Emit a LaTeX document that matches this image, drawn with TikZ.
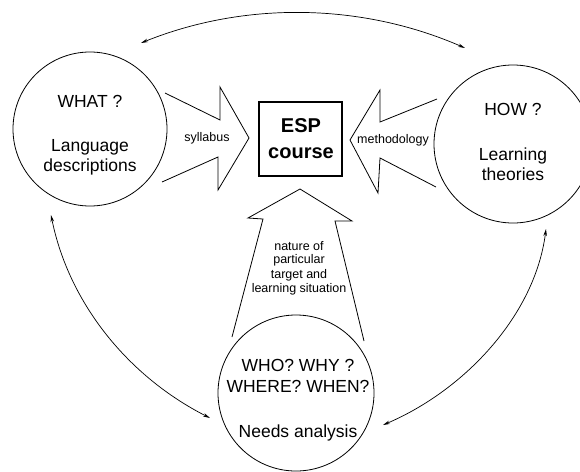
\documentclass[tikz,border=0pt]{standalone}
\usepackage{fontspec}
\setmainfont{Liberation Sans}
\usetikzlibrary{arrows.meta}
\newcommand{\BigLbl}{\fontsize{17.5pt}{21pt}\selectfont}
\newcommand{\SmallLbl}{\fontsize{12.5pt}{14pt}\selectfont}
\newcommand{\EspFont}{\fontsize{20pt}{24pt}\selectfont\bfseries}
\begin{document}
\begin{tikzpicture}[x=1pt,y=-1pt,
  ring/.style={draw, circle, line width=0.8pt, inner sep=0pt},
  biglbl/.style={anchor=base, inner sep=0pt, font=\BigLbl},
  smalllbl/.style={anchor=base, inner sep=0pt, font=\SmallLbl},
  esplbl/.style={anchor=base, inner sep=0pt, font=\EspFont},
  espbox/.style={draw, line width=1.1pt, inner sep=0pt, minimum width=83pt, minimum height=74pt},
  blockarrow/.style={draw, line width=0.8pt, line join=miter},
  link/.style={line width=0.7pt, {Stealth[length=7pt,width=3.5pt]}-{Stealth[length=7pt,width=3.5pt]}},
]
\clip (0,0) rectangle (580,471);
\fill[white] (0,0) rectangle (580,471);

% circles
\node[ring, minimum size=154pt] (what) at (90,129) {};
\node[ring, minimum size=158pt] (how) at (513,144) {};
\node[ring, minimum size=156pt] (who) at (296,393) {};

% circle texts
\node[biglbl] (whatA) at (90,107) {WHAT ?};
\node[biglbl] (whatB) at (90,151) {Language};
\node[biglbl] (whatC) at (90,171) {descriptions};
\node[biglbl] (howA) at (513,115) {HOW ?};
\node[biglbl] (howB) at (513,160) {Learning};
\node[biglbl] (howC) at (513,180) {theories};
\node[biglbl] (whoA) at (298,371) {WHO? WHY ?};
\node[biglbl] (whoB) at (298,392) {WHERE? WHEN?};
\node[biglbl] (whoC) at (298,437) {Needs analysis};

% ESP box
\node[espbox] (esp) at (300.5,139) {};
\node[esplbl] (espA) at (301,132) {ESP};
\node[esplbl] (espB) at (301,158) {course};

% block arrows
\draw[blockarrow] (165,93) -- (220,120) -- (220,87) -- (249,138) -- (218,190) -- (218,157) -- (162,182);
\draw[blockarrow] (437,99) -- (380,122) -- (380,90) -- (350,140) -- (378,193) -- (380,158) -- (436,187);
\draw[blockarrow] (232,337) -- (263,219) -- (248,218) -- (300,189) -- (352,221) -- (335,221) -- (364,341);

% arrow labels
\node[smalllbl] (syl) at (207,141) {syllabus};
\node[smalllbl] (meth) at (393,143) {methodology};
\node[smalllbl] (natA) at (299,250) {nature of};
\node[smalllbl] (natB) at (299,263) {particular};
\node[smalllbl] (natC) at (299,278) {target and};
\node[smalllbl] (natD) at (299,292) {learning situation};

% curved double arrows
\coordinate (topL) at (141,43);
\coordinate (topR) at (465,48);
\coordinate (lowL) at (51,215);
\coordinate (botL) at (210,418);
\coordinate (lowR) at (546,229);
\coordinate (botR) at (383,425);
\draw[link] (topL) .. controls (245,1) and (362,3) .. (topR);
\draw[link] (lowL) .. controls (69,304) and (129,377) .. (botL);
\draw[link] (lowR) .. controls (535,315) and (465,390) .. (botR);
\end{tikzpicture}
\end{document}
